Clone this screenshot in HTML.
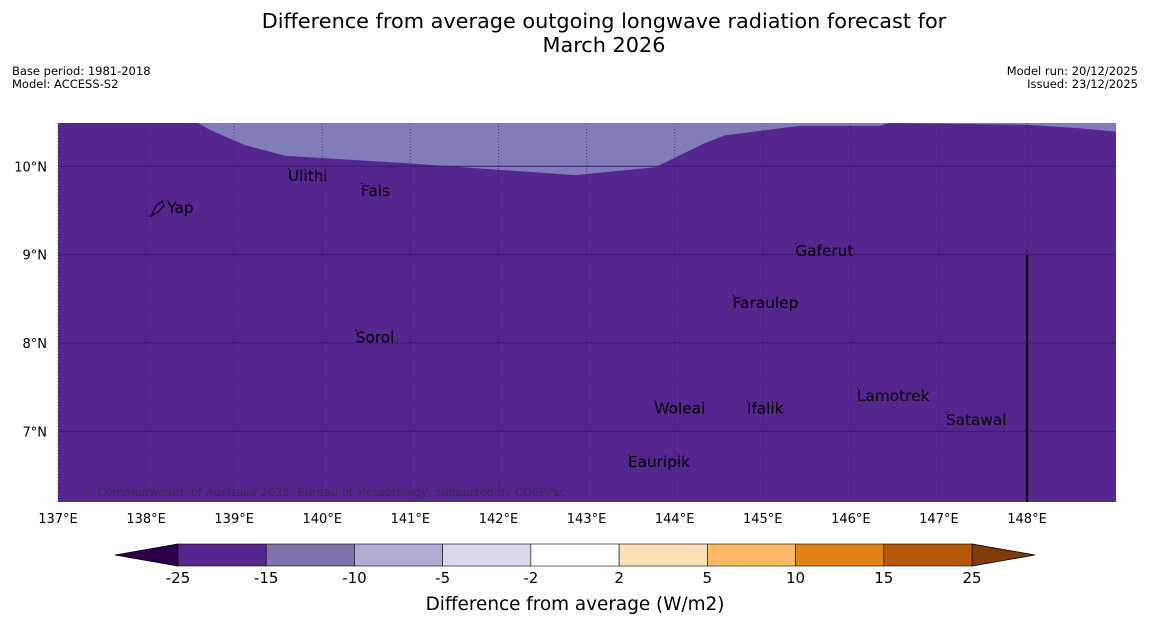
<!DOCTYPE html>
<html><head><meta charset="utf-8">
<style>
body{margin:0;background:#fff;font-family:"DejaVu Sans","Liberation Sans",sans-serif;}
#wrap{position:relative;width:1150px;height:644px;overflow:hidden;}
</style></head>
<body>
<div id="wrap">
<svg id="svg" width="1150" height="644" xmlns="http://www.w3.org/2000/svg" font-family="DejaVu Sans, Liberation Sans, sans-serif">
<text x="604" y="28" font-size="20.8" text-anchor="middle">Difference from average outgoing longwave radiation forecast for</text>
<text x="604" y="52" font-size="20.8" text-anchor="middle">March 2026</text>
<text x="12" y="75" font-size="11.5">Base period: 1981-2018</text>
<text x="12" y="88" font-size="11.5">Model: ACCESS-S2</text>
<text x="1138" y="75" font-size="11.5" text-anchor="end">Model run: 20/12/2025</text>
<text x="1138" y="88" font-size="11.5" text-anchor="end">Issued: 23/12/2025</text>
<g id="map"></g>
<g id="cbar"></g>
<text x="575" y="610" font-size="18.4" text-anchor="middle">Difference from average (W/m2)</text>
</svg>
</div>
<script>
// map extent
const lonMin = 137, lonMax = 149.01, latMin = 6.2, latMax = 10.49;
const lonTicks = [137,138,139,140,141,142,143,144,145,146,147,148];
const latTicks = [7,8,9,10];
// boundary of the -15..-10 region (upper area)
const boundaryLon = [138.59,138.73,139.12,139.58,140.88,142.87,143.78,144.34,144.57,145.42,146.33,146.44,148.0,148.6,149.01];
const boundaryLat = [10.49,10.41,10.24,10.12,10.04,9.90,9.99,10.26,10.35,10.46,10.46,10.49,10.47,10.43,10.39];
const placeNames = ["Yap","Ulithi","Fais","Gaferut","Faraulep","Sorol","Lamotrek","Woleai","Ifalik","Satawal","Eauripik"];
const placeLon = [138.24,139.61,140.44,145.37,144.66,140.38,146.07,143.77,144.82,147.08,143.47];
const placeLat = [9.53,9.89,9.72,9.04,8.45,8.06,7.40,7.26,7.26,7.13,6.65];
const cbLevels = ["-25","-15","-10","-5","-2","2","5","10","15","25"];
const cbColors = ["#54278f","#8073ac","#b2abd2","#d8daeb","#ffffff","#fee0b6","#fdb863","#e08214","#b35806"];

const X0=58,X1=1116,Y0=123,Y1=502;
const x = lon => X0 + (lon-lonMin)/(lonMax-lonMin)*(X1-X0);
const y = lat => Y1 - (lat-latMin)/(latMax-latMin)*(Y1-Y0);
const NS="http://www.w3.org/2000/svg";
function mk(tag, attrs, parent){const e=document.createElementNS(NS,tag);for(const k in attrs)e.setAttribute(k,attrs[k]);parent.appendChild(e);return e;}
const map=document.getElementById('map');

let bg=mk('rect',{x:X0,y:Y0,width:X1-X0,height:Y1-Y0,fill:'#54278f'},map);



let pts=boundaryLon.map((l,i)=>x(l).toFixed(1)+','+y(boundaryLat[i]).toFixed(1));
pts.push(X1+','+Y0);
let poly=mk('polygon',{points:pts.join(' '),fill:'#807dba'},map);



lonTicks.forEach(l=>{
  const g=mk('line',{x1:x(l),x2:x(l),y1:Y0,y2:Y1,stroke:'#2a1050','stroke-width':1,'stroke-dasharray':'1,2',opacity:0.6},map);
  
  
  const t=mk('text',{x:x(l),y:523,'font-size':13,'text-anchor':'middle'},map);
  t.textContent=l+'°E';
  
  
});
latTicks.forEach(l=>{
  const g=mk('line',{x1:X0,x2:X1,y1:y(l),y2:y(l),stroke:'#3a1870','stroke-width':1},map);
  
  
  const t=mk('text',{x:47,y:y(l)+5,'font-size':13,'text-anchor':'end'},map);
  t.textContent=l+'°N';
  
  
});
let vl=mk('line',{x1:x(148),x2:x(148),y1:y(9),y2:Y1,stroke:'#000','stroke-width':2},map);



placeNames.forEach((n,i)=>{
  const t=mk('text',{x:x(placeLon[i]),y:y(placeLat[i])+5,'font-size':15.3,fill:'#000'},map);
  t.textContent=n;
  
  
  const d=mk('rect',{x:x(placeLon[i]),y:y(placeLat[i])-8,width:1.2,height:1.2,fill:'#000'},map);
  
  
});
let yi=mk('path',{d:'M151,216 L156,206 L162,201 L164,206 L158,212 Z',fill:'none',stroke:'#000','stroke-width':1},map);



let cr=mk('text',{x:82,y:496,'font-size':11.5,fill:'#3a2a5a'},map);
cr.textContent='© Commonwealth of Australia 2025, Bureau of Meteorology, supported by COSPPac';



const cb=document.getElementById('cbar');
const CX0=178,CX1=972,CY0=544,CY1=566,w=(CX1-CX0)/cbColors.length;
let lt=mk('polygon',{points:`115,555 ${CX0},${CY0} ${CX0},${CY1}`,fill:'#2d004b',stroke:'#000','stroke-width':0.8},cb);


let rt=mk('polygon',{points:`1035,555 ${CX1},${CY0} ${CX1},${CY1}`,fill:'#7f3b08',stroke:'#000','stroke-width':0.8},cb);


cbColors.forEach((c,i)=>{
  const r=mk('rect',{x:CX0+i*w,y:CY0,width:w,height:CY1-CY0,fill:c,stroke:'#000','stroke-width':0.6},cb);
  
  
});
cbLevels.forEach((v,i)=>{
  const t=mk('text',{x:CX0+i*w,y:583,'font-size':15,'text-anchor':'middle'},cb);
  t.textContent=v;
  
  
});
</script>
</body></html>
